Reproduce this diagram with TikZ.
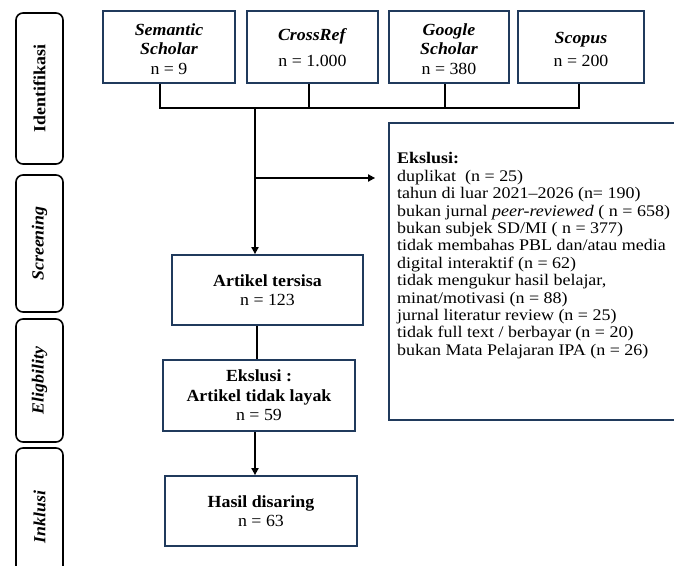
\documentclass[tikz,border=0pt]{standalone}
\usepackage{fontspec}
\setmainfont{Liberation Serif}[FakeStretch=1.05]
\newfontfamily\exfont{Liberation Serif}[FakeStretch=1.11]
\usetikzlibrary{arrows.meta}
\definecolor{navy}{HTML}{203A5C}
\begin{document}
\begin{tikzpicture}[x=1pt,y=-1pt,
  box/.style={draw=navy, line width=1.8pt, align=center, inner sep=0pt,
    font=\fontsize{17}{19.5}\selectfont},
  boxtext/.style={align=center, inner sep=0pt, font=\fontsize{17}{19.5}\selectfont},
  stage/.style={draw=black, line width=1.6pt, rounded corners=7pt, rotate=90,
    inner sep=0pt, font=\fontsize{17}{19}\selectfont\bfseries},
  link/.style={line width=2pt, black},
  arr/.style={link, -{Triangle[length=7pt,width=7pt]}}
]
\useasboundingbox (0,0) rectangle (674,565);
% stage labels
\node[stage, minimum width=151pt, minimum height=47pt] (s1) at (39.5,88.5) {Identifikasi};
\node[stage, minimum width=137pt, minimum height=47pt] (s2) at (39.5,243.5) {\itshape Screening};
\node[stage, minimum width=123pt, minimum height=47pt] (s3) at (39.5,380.5) {\itshape Eligbility};
\node[stage, minimum width=130pt, minimum height=47pt] (s4) at (39.5,513) {\itshape Inklusi\hspace*{8pt}};
% source boxes
\node[box, minimum width=132pt, minimum height=72pt] (sem) at (169,47) {};
\node[boxtext] (semt) at (169,49)
  {\textbf{\textit{Semantic}}\\\textbf{\textit{Scholar}}\\n = 9};
\node[box, minimum width=131pt, minimum height=72pt] (cro) at (312.5,47) {};
\node[boxtext] (crot) at (312.5,47.5)
  {\textbf{\textit{CrossRef}}\\[7pt]n = 1.000};
\node[box, minimum width=120pt, minimum height=72pt] (goo) at (449,47) {};
\node[boxtext] (goot) at (449,49)
  {\textbf{\textit{Google}}\\\textbf{\textit{Scholar}}\\n = 380};
\node[box, minimum width=126pt, minimum height=72pt] (sco) at (581,47) {};
\node[boxtext] (scot) at (581,49.5)
  {\textbf{\textit{Scopus}}\\[4pt]n = 200};
% flow boxes
\node[box, minimum width=191pt, minimum height=70pt] (art) at (267.5,290)
  {\textbf{Artikel tersisa}\\n = 123};
\node[box, minimum width=192pt, minimum height=71pt] (exa) at (259,395.5)
  {\textbf{Ekslusi :}\\\textbf{Artikel tidak layak}\\n = 59};
\node[box, minimum width=192pt, minimum height=70pt] (has) at (261,511)
  {\textbf{Hasil disaring}\\n = 63};
% exclusion box
\node[box, minimum width=311pt, minimum height=297pt] (exc) at (544.5,271.5) {};
\node[anchor=north west, inner sep=0pt, align=left,
  font=\exfont\fontsize{16.2}{17.4}\selectfont] (exct) at (397,152.5)
  {\textbf{Ekslusi:}\\
   duplikat\ \ (n = 25)\\
   tahun di luar 2021–2026 (n= 190)\\
   bukan jurnal \textit{peer-reviewed} ( n = 658)\\
   bukan subjek SD/MI ( n = 377)\\
   tidak membahas PBL dan/atau media\\
   digital interaktif (n = 62)\\
   tidak mengukur hasil belajar,\\
   minat/motivasi (n = 88)\\
   jurnal literatur review (n = 25)\\
   tidak full text / berbayar (n = 20)\\
   bukan Mata Pelajaran IPA (n = 26)};
% connectors
\coordinate (j) at (255,108);
\coordinate (b) at (255,178);
\draw[link] ([xshift=-9pt]sem.south) |- ([xshift=-2pt]sco.south |- j) -- ([xshift=-2pt]sco.south);
\draw[link] ([xshift=-3.5pt]cro.south) -- ([xshift=-3.5pt]cro.south |- j);
\draw[link] ([xshift=-4pt]goo.south) -- ([xshift=-4pt]goo.south |- j);
\draw[arr] (j) -- (j |- art.north);
\draw[arr] (b) -- ([xshift=-13pt]exc.west |- b);
\draw[link] ([xshift=-10.5pt]art.south) -- ([xshift=-2pt]exa.north);
\draw[arr] ([xshift=-4pt]exa.south) -- ([xshift=-6pt]has.north);
\end{tikzpicture}
\end{document}
